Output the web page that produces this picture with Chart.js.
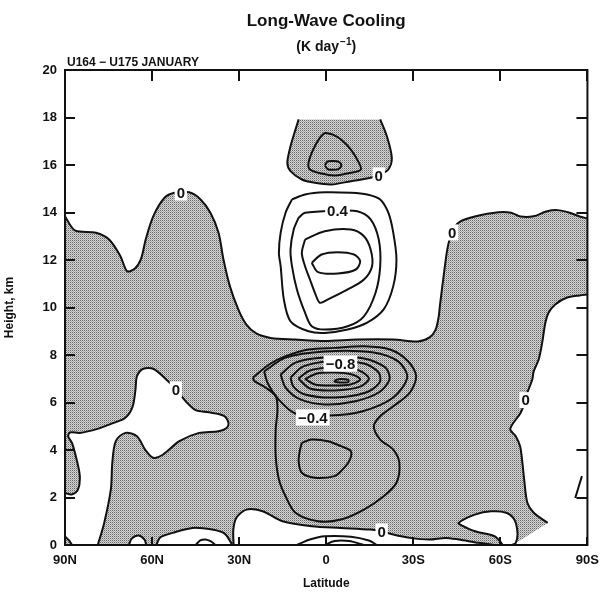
<!DOCTYPE html>
<html>
<head>
<meta charset="utf-8">
<title>Long-Wave Cooling</title>
<script src="https://cdn.jsdelivr.net/npm/chart.js@4.4.0/dist/chart.umd.min.js"></script>
<style>
  html, body { margin: 0; padding: 0; background: #fff; }
</style>
</head>
<body>
<canvas id="lwChart" width="607" height="593"></canvas>
<script>
// axis ticks
const latTicks = [90, 60, 30, 0, -30, -60, -90];
const latTickLabels = ['90N', '60N', '30N', '0', '30S', '60S', '90S'];
const heightTicks = [0, 2, 4, 6, 8, 10, 12, 14, 16, 18, 20];

// contour lines, [latitude (N positive), height km]
const zeroUpper = [[90,13.84],[86.6,13.25],[79.3,13.15],[74.8,12.86],[70.9,12.16],[68.6,11.53],[66.0,11.63],[63.8,12.05],[62.2,12.86],[59.6,13.84],[55.7,14.62],[52.3,14.83],[47.2,14.85],[43.3,14.55],[39.9,13.99],[37.1,13.15],[35.4,12.02],[33.2,10.9],[30.3,9.92],[27.5,9.28],[24.1,8.91],[19.1,8.72],[10.6,8.65],[0.5,8.59],[-10.6,8.65],[-23.1,8.65],[-31.6,8.57],[-35.6,8.74],[-37.7,9.07],[-38.7,9.58],[-39.3,10.21],[-40.6,11.47],[-41.7,12.44],[-42.7,12.95],[-44.1,13.37],[-46.1,13.62],[-51.2,13.83],[-59.3,14.01],[-63.7,13.99],[-67.0,13.83],[-71.4,13.84],[-75.8,14.04],[-79.6,14.1],[-83.9,13.99],[-87.3,13.83],[-90,13.75]];
const zeroSouthFlank = [[-90,10.55],[-87.3,10.51],[-82.8,10.41],[-78.9,10.13],[-76.6,9.78],[-75.5,9.36],[-74.4,8.51],[-73.2,7.81],[-71.5,7.32],[-71.0,6.97],[-69.3,6.41],[-68.7,6.1],[-67.0,5.57],[-63.4,4.89],[-65.3,4.58],[-66.8,4.16],[-67.6,3.46],[-68.2,2.76],[-69.3,1.78],[-71.5,1.36],[-76.3,0.93]];
const zeroCapBlob = [[9.5,17.92],[-18.6,17.92],[-20.9,17.21],[-22.6,16.3],[-21.4,15.81],[-18.6,15.6],[-15.3,15.46],[-8.5,15.32],[-1.8,15.18],[3.9,15.25],[8.4,15.39],[12.3,15.74],[13.4,16.09],[12.3,16.79],[10.6,17.49]];
const capInner = [[0.5,17.36],[-2.3,17.28],[-5.1,17.07],[-8.5,16.65],[-11.3,16.09],[-11.9,15.81],[-8.5,15.67],[-2.9,15.56],[1.6,15.64],[5.6,15.81],[6.1,16.09],[4.5,16.65],[2.2,17.14]];
const capCore = [[0.5,15.99],[-0.5,16.15],[-2.3,16.17],[-4.2,16.14],[-5.2,15.99],[-4.2,15.83],[-2.3,15.80],[-0.5,15.83]];
const warm02 = [[11.8,14.55],[7.3,14.76],[0.5,14.85],[-8.5,14.83],[-14.1,14.76],[-18.6,14.55],[-21.4,13.99],[-23.1,13.15],[-24.2,12.02],[-23.1,10.9],[-19.8,9.92],[-14.1,9.36],[-7.4,9.07],[0.5,8.93],[6.1,9.0],[12.3,9.42],[14.6,10.34],[15.7,11.74],[16.3,12.3],[15.7,13.15],[14.0,13.99]];
const warm04 = [[9.5,13.78],[7.3,13.99],[-3.9,14.07],[-10.7,14.05],[-15.3,13.71],[-18.1,12.86],[-18.6,11.74],[-17.0,10.62],[-13.0,9.63],[-7.4,9.21],[0.5,9.07],[5.0,9.21],[7.3,9.78],[10.1,10.76],[11.8,11.74],[12.3,12.44],[11.2,13.28]];
const warm06 = [[7.3,12.86],[0.5,13.21],[-8.5,13.28],[-13.0,13.0],[-15.3,12.44],[-15.8,11.74],[-13.0,11.18],[-7.4,10.76],[-0.6,10.34],[2.2,10.2],[3.9,10.62],[5.6,11.18],[7.3,11.74],[8.4,12.3]];
const warm08 = [[5.0,11.88],[1.6,12.23],[-4.0,12.33],[-9.6,12.23],[-11.7,11.95],[-10.2,11.6],[-4.0,11.43],[2.8,11.49]];
const zeroMidBlob = [[90,2.19],[87.7,2.13],[85.5,2.34],[84.9,2.9],[86.0,3.6],[87.6,4.3],[88.9,4.57],[88.3,4.74],[84.9,4.72],[78.8,4.89],[73.7,5.12],[69.2,5.36],[66.7,5.83],[65.7,6.55],[65.2,7.11],[63.0,7.42],[59.6,7.42],[55.1,6.97],[51.7,6.55],[48.4,6.05],[45.0,5.68],[40.5,5.59],[35.4,5.45],[33.7,5.15],[34.3,4.93],[37.1,4.79],[43.8,4.72],[50.6,4.37],[56.2,3.81],[59.6,3.67],[62.4,4.02],[65.2,4.58],[69.2,4.72],[72.5,4.37],[73.7,3.46],[74.2,2.34],[76.5,0.93],[78.7,0]];
const zeroGround = [[31.9,0],[32.0,0.65],[30.9,1.16],[27.5,1.49],[21.9,1.42],[15.1,1.0],[5.0,0.79],[-5.1,0.72],[-15.3,0.65],[-19.2,0.58],[-23.1,0.44],[-28.8,0.3],[-35.5,0.23],[-41.1,0.3],[-45.7,0.23],[-52.4,0.09],[-58.0,0]];
const zeroGround30N = [[58.5,0],[57.2,0.32],[52.9,0.51],[46.1,0.72],[39.3,0.65],[35.0,0.48],[32.3,0]];
const groundArc40N = [[45.0,0],[43.4,0.19],[41.6,0.23],[39.7,0.15],[38.2,0]];
const zeroGround65N = [[68.0,0],[67.0,0.27],[64.7,0.4],[62.6,0.23],[62.0,0]];
const groundLensOuter = [[10.1,0],[5.6,0.23],[0.5,0.37],[-8.5,0.35],[-14.7,0.19],[-17.5,0]];
const groundLensInner = [[0.5,0],[-2.9,0.17],[-7.9,0.17],[-13.0,0]];
const zeroTongue60S = [[-60.8,0],[-60.3,0.09],[-58.0,0.37],[-51.3,0.58],[-46.8,0.82],[-45.6,0.93],[-51.2,1.28],[-56.9,1.42],[-62.0,1.36],[-64.8,1.07],[-65.9,0.51],[-65.3,0.09],[-64.0,0]];
const cool02 = [[25.3,7.04],[19.7,7.6],[14.0,7.95],[6.1,8.23],[-2.9,8.3],[-13.0,8.37],[-22.0,8.23],[-28.2,7.74],[-31.0,7.11],[-28.8,6.41],[-23.1,5.84],[-18.6,5.42],[-16.4,5.0],[-18.6,4.44],[-23.1,4.02],[-25.2,3.46],[-24.2,2.62],[-19.8,2.05],[-13.0,1.49],[-5.1,1.07],[2.8,1.0],[10.6,1.36],[14.0,2.05],[16.3,2.76],[17.4,3.74],[17.4,4.86],[16.8,5.71],[17.4,6.27],[20.8,6.62],[24.7,6.9]];
const cool04 = [[21.4,7.31],[14.0,7.89],[0.5,8.15],[-16.4,8.11],[-24.8,7.73],[-27.9,7.06],[-23.1,6.21],[-12.3,5.62],[-1.2,5.45],[10.6,5.54],[16.4,6.13],[20.1,6.8]];
const cool06 = [[15.7,7.18],[10.6,7.68],[0.5,7.89],[-13.0,7.85],[-20.4,7.47],[-21.8,6.97],[-18.1,6.42],[-9.6,6.04],[0.5,5.92],[8.9,6.13],[14.0,6.63]];
const cool08 = [[12.3,7.05],[7.9,7.52],[-1.2,7.73],[-13.0,7.64],[-18.1,7.26],[-18.4,6.84],[-13.7,6.42],[-2.9,6.21],[7.3,6.34],[11.3,6.67]];
const cool10 = [[9.6,7.01],[5.6,7.35],[-2.9,7.47],[-11.3,7.35],[-14.7,7.01],[-11.7,6.67],[-2.9,6.51],[5.6,6.59]];
const cool12 = [[7.3,6.99],[3.2,7.22],[-2.9,7.26],[-8.9,7.18],[-11.7,6.97],[-8.3,6.76],[-2.2,6.72],[3.9,6.76]];
const coolCore = [[-2.9,6.93],[-4.9,6.99],[-7.6,6.95],[-7.6,6.86],[-4.9,6.84],[-2.9,6.88]];
const coolLow = [[8.4,4.3],[5.0,4.44],[-0.6,4.37],[-5.1,4.16],[-8.5,3.95],[-7.9,3.53],[-5.1,3.11],[-2.9,2.9],[3.9,2.83],[8.4,3.04],[9.5,3.53],[9.0,4.02]];
const edgeDash90S = [[-85.8,1.98],[-88.1,2.9]];
const cornerArc90N = [[90,0.36],[88.6,0.19],[87.6,0]];

// contour value labels: text, latitude, height
const contourLabels = [
  ['0', 50.1, 14.84], ['0', -18.1, 15.56], ['0', -43.4, 13.16], ['0.4', -3.9, 14.08],
  ['0', 51.8, 6.55], ['\u22120.8', -4.9, 7.64], ['\u22120.4', 4.6, 5.37],
  ['0', -68.7, 6.1], ['0', -19.1, 0.57]
];

const loop = pts => pts.concat([pts[0]]);
const toXY = pts => pts.map(([lat, km]) => ({ x: lat, y: km }));

// stippled cooling regions (even-odd: holes cut out the warm patches)
const shadedMain = zeroUpper.concat(zeroSouthFlank, [[-64.3, 0], [90, 0]]);
const shadedPaths = [
  shadedMain,
  zeroMidBlob.concat([[90, 0]]),
  zeroGround, zeroGround30N, zeroGround65N, zeroTongue60S,
  cornerArc90N.concat([[90, 0]]),
  zeroCapBlob
];

const contourLines = [
  zeroUpper, zeroSouthFlank, zeroCapBlob.slice(1).concat([zeroCapBlob[0]]),
  loop(capInner), loop(capCore),
  loop(warm02), loop(warm04), loop(warm06), loop(warm08),
  zeroMidBlob, zeroGround, zeroGround30N, groundArc40N, zeroGround65N,
  groundLensOuter, groundLensInner, zeroTongue60S,
  loop(cool02), loop(cool04), loop(cool06), loop(cool08), loop(cool10), loop(cool12),
  loop(coolCore), loop(coolLow),
  edgeDash90S, cornerArc90N
];

const FONT = '"Liberation Sans", Arial, Helvetica, sans-serif';
const INK = '#111';

function stipple() {
  const c = document.createElement('canvas');
  c.width = 2; c.height = 2;
  const g = c.getContext('2d');
  g.fillStyle = '#d6d6d6'; g.fillRect(0, 0, 2, 2);
  g.fillStyle = '#666'; g.fillRect(0, 0, 1, 1);
  g.fillStyle = '#a6a6a6'; g.fillRect(1, 1, 1, 1);
  return g.createPattern(c, 'repeat');
}

const shadePlugin = {
  id: 'shade',
  beforeDatasetsDraw(chart) {
    const { ctx, chartArea: a, scales: { x, y } } = chart;
    ctx.save();
    ctx.beginPath();
    ctx.rect(a.left, a.top, a.right - a.left, a.bottom - a.top);
    ctx.clip();
    ctx.beginPath();
    shadedPaths.forEach(pts => {
      pts.forEach(([lat, km], i) => {
        const px = x.getPixelForValue(lat), py = y.getPixelForValue(km);
        if (i === 0) ctx.moveTo(px, py); else ctx.lineTo(px, py);
      });
      ctx.closePath();
    });
    ctx.fillStyle = stipple();
    ctx.fill('evenodd');
    ctx.restore();
  }
};

const framePlugin = {
  id: 'frame',
  afterDatasetsDraw(chart) {
    const { ctx, chartArea: a, scales: { x, y } } = chart;
    ctx.save();
    // value labels sit in white boxes on their lines
    ctx.font = 'bold 15px ' + FONT;
    ctx.textAlign = 'center';
    ctx.textBaseline = 'middle';
    contourLabels.forEach(([t, lat, km]) => {
      const px = x.getPixelForValue(lat), py = y.getPixelForValue(km);
      const w = ctx.measureText(t).width;
      ctx.fillStyle = '#fff';
      ctx.fillRect(px - w / 2 - 2, py - 8, w + 4, 16);
      ctx.fillStyle = INK;
      ctx.fillText(t, px, py + 1);
    });
    // box and inward ticks
    ctx.strokeStyle = INK;
    ctx.lineWidth = 2;
    ctx.strokeRect(a.left, a.top, a.right - a.left, a.bottom - a.top);
    ctx.beginPath();
    latTicks.forEach(v => {
      const px = Math.round(x.getPixelForValue(v));
      ctx.moveTo(px, a.top); ctx.lineTo(px, a.top + 11);
      ctx.moveTo(px, a.bottom); ctx.lineTo(px, a.bottom - 8);
    });
    heightTicks.forEach(v => {
      const py = Math.round(y.getPixelForValue(v));
      ctx.moveTo(a.left, py); ctx.lineTo(a.left + 10, py);
      ctx.moveTo(a.right, py); ctx.lineTo(a.right - 11, py);
    });
    ctx.stroke();
    ctx.restore();
  },
  afterDraw(chart) {
    const ctx = chart.ctx;
    const cx = (chart.chartArea.left + chart.chartArea.right) / 2;
    ctx.save();
    ctx.fillStyle = INK;
    ctx.textBaseline = 'alphabetic';
    ctx.textAlign = 'center';
    ctx.font = 'bold 17px ' + FONT;
    ctx.fillText('Long-Wave Cooling', cx, 26);

    // (K day^-1) with a raised exponent
    const partA = '(K day', partB = '\u22121', partC = ')';
    ctx.font = 'bold 14px ' + FONT;
    const wA = ctx.measureText(partA).width, wC = ctx.measureText(partC).width;
    ctx.font = 'bold 10px ' + FONT;
    const wB = ctx.measureText(partB).width + 1;
    let sx = cx - (wA + wB + wC) / 2;
    ctx.textAlign = 'left';
    ctx.font = 'bold 14px ' + FONT;
    ctx.fillText(partA, sx, 51);
    ctx.font = 'bold 10px ' + FONT;
    ctx.fillText(partB, sx + wA + 1, 45);
    ctx.font = 'bold 14px ' + FONT;
    ctx.fillText(partC, sx + wA + wB, 51);

    ctx.font = 'bold 12px ' + FONT;
    ctx.fillText('U164 \u2212 U175 JANUARY', chart.chartArea.left + 2, 66);
    ctx.restore();
  }
};

new Chart(document.getElementById('lwChart'), {
  type: 'scatter',
  data: {
    datasets: contourLines.map(pts => ({
      data: toXY(pts),
      showLine: true,
      fill: false,
      pointRadius: 0,
      pointHoverRadius: 0,
      borderColor: INK,
      borderWidth: 2,
      tension: 0.3
    }))
  },
  options: {
    responsive: false,
    animation: false,
    events: [],
    layout: { padding: { top: 70, right: 9, left: 0, bottom: 0 } },
    plugins: { legend: { display: false }, tooltip: { enabled: false } },
    scales: {
      x: {
        type: 'linear', min: -90, max: 90, reverse: true,
        afterBuildTicks: s => { s.ticks = latTicks.map(v => ({ value: v })); },
        afterFit: s => { s.height = 48; },
        grid: { display: false, drawTicks: false },
        border: { display: false },
        ticks: {
          autoSkip: false, maxRotation: 0, padding: 8, color: INK,
          font: { family: FONT, size: 13, weight: 'bold' },
          callback: v => latTickLabels[latTicks.indexOf(v)]
        },
        title: {
          display: true, text: 'Latitude', color: INK,
          font: { family: FONT, size: 12, weight: 'bold' },
          padding: { top: 4, bottom: 2 }
        }
      },
      y: {
        type: 'linear', min: 0, max: 20,
        afterBuildTicks: s => { s.ticks = heightTicks.map(v => ({ value: v })); },
        afterFit: s => { s.width = 65; },
        grid: { display: false, drawTicks: false },
        border: { display: false },
        ticks: {
          padding: 8, color: INK,
          font: { family: FONT, size: 13, weight: 'bold' },
          callback: v => String(v)
        },
        title: {
          display: true, text: 'Height, km', color: INK,
          font: { family: FONT, size: 12, weight: 'bold' },
          padding: { top: 2, bottom: 4 }
        }
      }
    }
  },
  plugins: [shadePlugin, framePlugin]
});
</script>
</body>
</html>
